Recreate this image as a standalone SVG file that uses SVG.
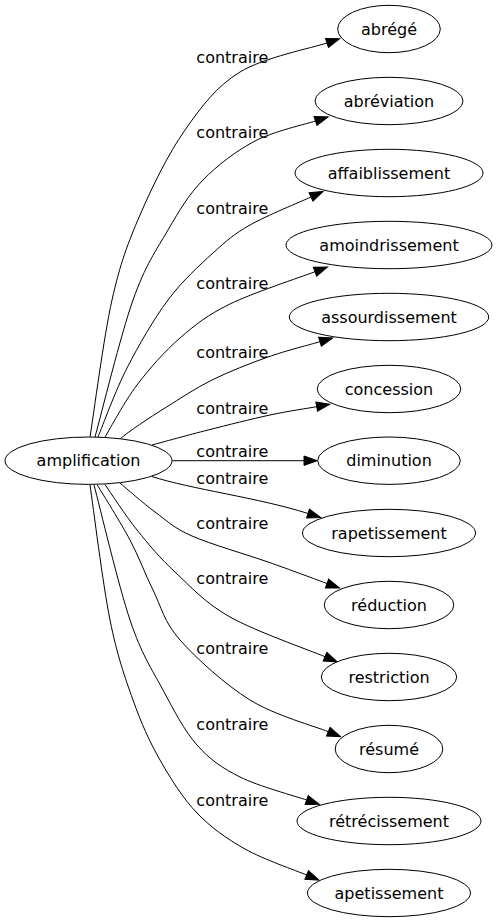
<svg xmlns="http://www.w3.org/2000/svg" width="497" height="923" viewBox="0 0 497 923">
<style>
.node ellipse{fill:#fff;stroke:#000;stroke-width:1}
text{font-family:"DejaVu Sans",Verdana,sans-serif;font-size:16px;fill:#000;text-anchor:middle}
.edge path{fill:none;stroke:#000;stroke-width:1;marker-end:url(#arrow)}
</style>
<defs>
<marker id="arrow" viewBox="0 0 14 10" refX="0" refY="5" markerWidth="14" markerHeight="10" markerUnits="userSpaceOnUse" orient="auto" overflow="visible">
<path d="M0,0.3 L13.3,5 L0,9.7 Z" fill="#000" stroke="#000" stroke-width="1"/>
</marker>
</defs>
<rect width="497" height="923" fill="#fff"/>
<g id="edges" class="edge">
<path d="M90,437 C93.7,414.2 103.7,337 112,300 C120.3,263 127.8,243.3 140,215 C152.2,186.7 168.3,153.8 185,130 C201.7,106.2 216.3,86.5 240,72 C263.7,57.5 312.5,47.8 327,43"/>
<path d="M95,437 C101.3,414.2 120.8,334.5 133,300 C145.2,265.5 156.3,250 168,230 C179.7,210 188.5,194.8 203,180 C217.5,165.2 236.3,150.8 255,141 C273.8,131.2 305.4,124.3 315.5,121"/>
<path d="M98,437 C102.8,425.5 115.3,390.8 127,368 C138.7,345.2 153.7,319.2 168,300 C182.3,280.8 199.3,265.5 213,253 C226.7,240.5 233.7,234.3 250,225 C266.3,215.7 300.8,201.7 311,197"/>
<path d="M105,437 C110.3,428.3 124.5,401.5 137,385 C149.5,368.5 164.5,351.5 180,338 C195.5,324.5 207.5,315 230,304 C252.5,293 300.8,277.1 315,271.7"/>
<path d="M120,439 C127.5,432.2 149.7,417.5 165,408 C180.3,398.5 194.8,388.5 212,380 C229.2,371.5 250,363.4 268,357 C286,350.6 311.3,344.3 320,341.7"/>
<path d="M152,445 C161.3,442.5 188.3,435 208,430 C227.7,425 251.9,418.9 270,415 C288.1,411.1 308.9,408.1 316.7,406.7"/>
<path d="M172.3,460.7 L304,460.7"/>
<path d="M152,476.5 C190,489 260,498 308,513.5"/>
<path d="M120,483 C125.8,487.8 143,503.2 155,512 C167,520.8 173.2,527.7 192,536 C210.8,544.3 245.5,554.1 268,562 C290.5,569.9 317.2,579.9 327,583.5"/>
<path d="M105,484.5 C110.3,492.1 125.3,515.4 137,530 C148.7,544.6 159.5,557.5 175,572 C190.5,586.5 205,602.9 230,617 C255,631.1 309.2,650.1 325,656.7"/>
<path d="M97.3,485 C102.8,494.2 120.7,522.5 130,540 C139.3,557.5 144.7,573.3 153,590 C161.3,606.7 163.8,621.7 180,640 C196.2,658.3 225.3,684.7 250,700 C274.7,715.3 315.3,726.4 328.3,731.7"/>
<path d="M94,485 C100,507.5 118.5,585.8 130,620 C141.5,654.2 151.8,669.2 163,690 C174.2,710.8 184.2,730.5 197,745 C209.8,759.5 221.7,767.8 240,777 C258.3,786.2 295.6,796.2 306.7,800"/>
<path d="M90,485 C93.3,507.5 102.8,584.2 110,620 C117.2,655.8 124.7,676.7 133,700 C141.3,723.3 149.3,741.2 160,760 C170.7,778.8 182.8,798.2 197,813 C211.2,827.8 226.7,838.7 245,849 C263.3,859.3 296.4,870.7 306.7,875"/>
<text x="232.3" y="62.5">contraire</text>
<text x="232.3" y="138">contraire</text>
<text x="232.3" y="213.5">contraire</text>
<text x="232.3" y="288.5">contraire</text>
<text x="232.3" y="357.5">contraire</text>
<text x="232.3" y="413.5">contraire</text>
<text x="232.3" y="457">contraire</text>
<text x="232.3" y="484">contraire</text>
<text x="232.3" y="528.5">contraire</text>
<text x="232.3" y="584">contraire</text>
<text x="232.3" y="653.5">contraire</text>
<text x="232.3" y="729.5">contraire</text>
<text x="232.3" y="806">contraire</text>
</g>
<g id="amplification" class="node"><ellipse cx="88.5" cy="460.7" rx="83.5" ry="23.7"/><text x="88.5" y="466.2">amplification</text></g>
<g id="abrege" class="node"><ellipse cx="389" cy="29" rx="51.3" ry="23.7"/><text x="389" y="34.5">abrégé</text></g>
<g id="abreviation" class="node"><ellipse cx="389" cy="101" rx="74" ry="23.7"/><text x="389" y="106.5">abréviation</text></g>
<g id="affaiblissement" class="node"><ellipse cx="389" cy="173" rx="94" ry="23.7"/><text x="389" y="178.5">affaiblissement</text></g>
<g id="amoindrissement" class="node"><ellipse cx="389" cy="245" rx="103" ry="23.7"/><text x="389" y="250.5">amoindrissement</text></g>
<g id="assourdissement" class="node"><ellipse cx="389" cy="317" rx="99.7" ry="23.7"/><text x="389" y="322.5">assourdissement</text></g>
<g id="concession" class="node"><ellipse cx="389" cy="389" rx="71.8" ry="23.7"/><text x="389" y="394.5">concession</text></g>
<g id="diminution" class="node"><ellipse cx="389" cy="460.7" rx="71.3" ry="23.7"/><text x="389" y="466.2">diminution</text></g>
<g id="rapetissement" class="node"><ellipse cx="389" cy="533" rx="86.5" ry="23.7"/><text x="389" y="538.5">rapetissement</text></g>
<g id="reduction" class="node"><ellipse cx="389" cy="605" rx="64.8" ry="23.7"/><text x="389" y="610.5">réduction</text></g>
<g id="restriction" class="node"><ellipse cx="389" cy="677" rx="67.7" ry="23.7"/><text x="389" y="682.5">restriction</text></g>
<g id="resume" class="node"><ellipse cx="389" cy="749" rx="53.8" ry="23.7"/><text x="389" y="754.5">résumé</text></g>
<g id="retrecissement" class="node"><ellipse cx="389" cy="821" rx="92" ry="23.7"/><text x="389" y="826.5">rétrécissement</text></g>
<g id="apetissement" class="node"><ellipse cx="389" cy="893" rx="81.5" ry="23.7"/><text x="389" y="898.5">apetissement</text></g>
</svg>
